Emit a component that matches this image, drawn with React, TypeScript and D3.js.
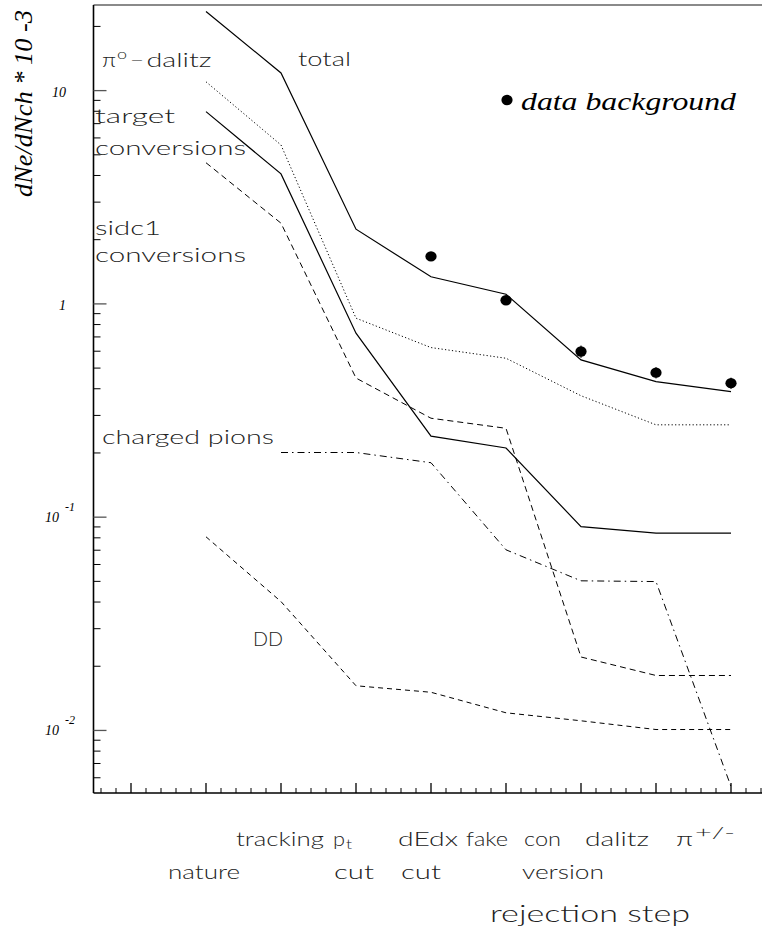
import React, { useEffect, useRef } from 'react';
import * as d3 from 'd3';

// rejection steps (x index 1..8)
const steps = [1, 2, 3, 4, 5, 6, 7, 8];

// dNe/dNch * 10^-3 per source
const total = [23.5, 12.1, 2.24, 1.34, 1.11, 0.546, 0.432, 0.388];
const pi0Dalitz = [11.0, 5.56, 0.857, 0.624, 0.556, 0.371, 0.271, 0.271];
const targetConv = [7.97, 4.07, 0.729, 0.24, 0.211, 0.0903, 0.0841, 0.0841];
const sidc1Conv = [4.59, 2.39, 0.449, 0.291, 0.261, 0.0221, 0.0181, 0.0181];
const chargedPions = [null, 0.201, 0.201, 0.18, 0.0703, 0.0503, 0.0499, 0.00546];
const ddPairs = [0.0809, 0.0402, 0.0162, 0.0151, 0.0121, 0.0111, 0.0101, 0.0101];

// measured background
const dataBg = [null, null, null, 1.67, 1.04, 0.598, 0.476, 0.425];
const dataErr = [0, 0, 0, 0, 0, 0.04, 0.029, 0.026];

const yDecades = [0.01, 0.1, 1, 10];

const SANS = 'Lato, "DejaVu Sans", sans-serif';
const SERIF = '"Liberation Serif", "DejaVu Serif", serif';

const App: React.FC = () => {
  const ref = useRef<SVGSVGElement>(null);

  useEffect(() => {
    if (!ref.current) return;
    const svg = d3.select(ref.current);
    svg.selectAll('*').remove();

    const left = 93.5;
    const right = 762;
    const top = 5;
    const bottom = 793;

    const x = d3.scaleLinear().domain([0, 8]).range([131, 731]);
    const y = d3.scaleLog().domain([0.00509, 25.2]).range([bottom, top]);

    // frame: gray top line, black left + bottom axes
    svg.append('line')
      .attr('x1', left).attr('x2', right).attr('y1', top).attr('y2', top)
      .attr('stroke', '#8a8a8a').attr('stroke-width', 2);
    svg.append('line')
      .attr('x1', left).attr('x2', left).attr('y1', top).attr('y2', bottom)
      .attr('stroke', '#000').attr('stroke-width', 1.6);
    svg.append('line')
      .attr('x1', left).attr('x2', right).attr('y1', bottom).attr('y2', bottom)
      .attr('stroke', '#000').attr('stroke-width', 1.6);

    // y ticks (log): majors at decades, minors 2..9
    const yMinor: number[] = [];
    [0.001, 0.01, 0.1, 1, 10].forEach((d) => {
      for (let k = 2; k <= 9; k++) {
        const v = d * k;
        if (v > 0.00509 && v < 25.2) yMinor.push(v);
      }
    });
    svg.append('g').selectAll('line').data(yMinor).enter().append('line')
      .attr('x1', left).attr('x2', left + 7)
      .attr('y1', (d) => y(d)).attr('y2', (d) => y(d))
      .attr('stroke', '#000').attr('stroke-width', 1);
    svg.append('g').selectAll('line').data(yDecades).enter().append('line')
      .attr('x1', left).attr('x2', left + 13)
      .attr('y1', (d) => y(d)).attr('y2', (d) => y(d))
      .attr('stroke', '#555').attr('stroke-width', 1.3);

    // x ticks
    const xMinor = d3.range(-2, 43).map((i) => i * 0.2).filter((v) => Math.abs(v - Math.round(v)) > 0.01);
    svg.append('g').selectAll('line').data(xMinor).enter().append('line')
      .attr('x1', (d) => x(d)).attr('x2', (d) => x(d))
      .attr('y1', bottom).attr('y2', bottom - 5)
      .attr('stroke', '#000').attr('stroke-width', 1);
    svg.append('g').selectAll('line').data(d3.range(0, 9)).enter().append('line')
      .attr('x1', (d) => x(d)).attr('x2', (d) => x(d))
      .attr('y1', bottom).attr('y2', bottom - 10)
      .attr('stroke', '#000').attr('stroke-width', 1.3);

    // y tick labels
    const yl = svg.append('g')
      .attr('font-family', SERIF).attr('font-style', 'italic')
      .attr('font-size', 14).attr('fill', '#000');
    yl.append('text').attr('x', 66).attr('y', y(10) + 6).attr('text-anchor', 'end').text('10');
    yl.append('text').attr('x', 66).attr('y', y(1) + 6).attr('text-anchor', 'end').text('1');
    [0.1, 0.01].forEach((v, i) => {
      const t = yl.append('text').attr('x', 45).attr('y', y(v) + 5);
      t.append('tspan').text('10');
      t.append('tspan').attr('dx', 6).attr('dy', -11).attr('font-size', 12).text(i === 0 ? '-1' : '-2');
    });

    // y axis title
    svg.append('text')
      .attr('transform', 'translate(32,197) rotate(-90)')
      .attr('font-family', SERIF).attr('font-style', 'italic')
      .attr('font-size', 25).attr('fill', '#000')
      .attr('textLength', 187).attr('lengthAdjust', 'spacingAndGlyphs')
      .text('dNe/dNch * 10 -3');

    // curves
    const line = d3.line<[number, number | null]>()
      .defined((d) => d[1] != null)
      .x((d) => x(d[0]))
      .y((d) => y(d[1] as number));

    const series: { v: (number | null)[]; dash: string | null; w: number }[] = [
      { v: total, dash: null, w: 1.2 },
      { v: pi0Dalitz, dash: '1.2,2.3', w: 1 },
      { v: targetConv, dash: null, w: 1.2 },
      { v: sidc1Conv, dash: '6,4', w: 1 },
      { v: chargedPions, dash: '7,4,1.5,4', w: 1 },
      { v: ddPairs, dash: '5,4', w: 1 },
    ];
    series.forEach((s) => {
      const pts = steps.map((st, i) => [st, s.v[i]] as [number, number | null]);
      svg.append('path')
        .attr('d', line(pts) as string)
        .attr('fill', 'none')
        .attr('stroke', '#000')
        .attr('stroke-width', s.w)
        .attr('stroke-dasharray', s.dash);
    });

    // data points with small error bars
    const pts = steps
      .map((st, i) => ({ st, v: dataBg[i], e: dataErr[i] }))
      .filter((d) => d.v != null) as { st: number; v: number; e: number }[];
    svg.append('g').selectAll('line').data(pts.filter((d) => d.e > 0)).enter().append('line')
      .attr('x1', (d) => x(d.st)).attr('x2', (d) => x(d.st))
      .attr('y1', (d) => y(d.v + d.e)).attr('y2', (d) => y(d.v - d.e))
      .attr('stroke', '#000').attr('stroke-width', 1);
    svg.append('g').selectAll('ellipse').data(pts).enter().append('ellipse')
      .attr('cx', (d) => x(d.st)).attr('cy', (d) => y(d.v))
      .attr('rx', 5.6).attr('ry', 5.2)
      .attr('fill', '#000');

    // legend for data
    svg.append('ellipse').attr('cx', 507).attr('cy', 100).attr('rx', 5.6).attr('ry', 5.2).attr('fill', '#000');
    svg.append('text')
      .attr('x', 521).attr('y', 110)
      .attr('font-family', SERIF).attr('font-style', 'italic')
      .attr('font-size', 26).attr('fill', '#000')
      .attr('textLength', 215).attr('lengthAdjust', 'spacingAndGlyphs')
      .text('data background');

    // thin wide sans text, stretched to the widths measured on the original
    const label = (
      g: d3.Selection<SVGGElement, unknown, null, undefined>,
      tx: number, ty: number, s: string, len: number, size = 20,
    ) => g.append('text')
      .attr('x', tx).attr('y', ty)
      .attr('font-size', size)
      .attr('textLength', len).attr('lengthAdjust', 'spacingAndGlyphs')
      .text(s);

    const lab = svg.append('g')
      .attr('font-family', SANS).attr('font-weight', 300)
      .attr('font-size', 20).attr('fill', '#222');
    label(lab, 102, 66.5, 'π', 14);
    label(lab, 117, 59, 'o', 10, 13);
    label(lab, 130, 66.5, '−', 14);
    label(lab, 146.5, 66.5, 'dalitz', 65);
    label(lab, 298, 66, 'total', 53);
    label(lab, 95, 123, 'target', 80);
    label(lab, 95, 155, 'conversions', 151);
    label(lab, 95, 235, 'sidc1', 66);
    label(lab, 95, 262, 'conversions', 151);
    label(lab, 102, 444, 'charged pions', 172);
    label(lab, 253, 646, 'DD', 30);

    // x step labels
    const xl = svg.append('g')
      .attr('font-family', SANS).attr('font-weight', 300)
      .attr('font-size', 20).attr('fill', '#222');
    const row1 = 846;
    const row2 = 879;
    label(xl, 236, row1, 'tracking', 88);
    label(xl, 333, row1, 'p', 12);
    label(xl, 346, row1 + 3, 't', 6, 13);
    label(xl, 398, row1, 'dEdx', 60);
    label(xl, 466, row1, 'fake', 42);
    label(xl, 524, row1, 'con', 37);
    label(xl, 585, row1, 'dalitz', 64);
    label(xl, 676, row1, 'π', 17);
    label(xl, 695, row1 - 8, '+/-', 40, 15);
    label(xl, 168, row2, 'nature', 72);
    label(xl, 334, row2, 'cut', 40);
    label(xl, 401, row2, 'cut', 40);
    label(xl, 522, row2, 'version', 82);
    label(xl, 490, 922, 'rejection step', 200, 23);
  }, []);

  return (
    <svg
      ref={ref}
      width={762}
      height={934}
      style={{ position: 'absolute', left: 0, top: 0, background: '#fff' }}
    />
  );
};

export default App;
